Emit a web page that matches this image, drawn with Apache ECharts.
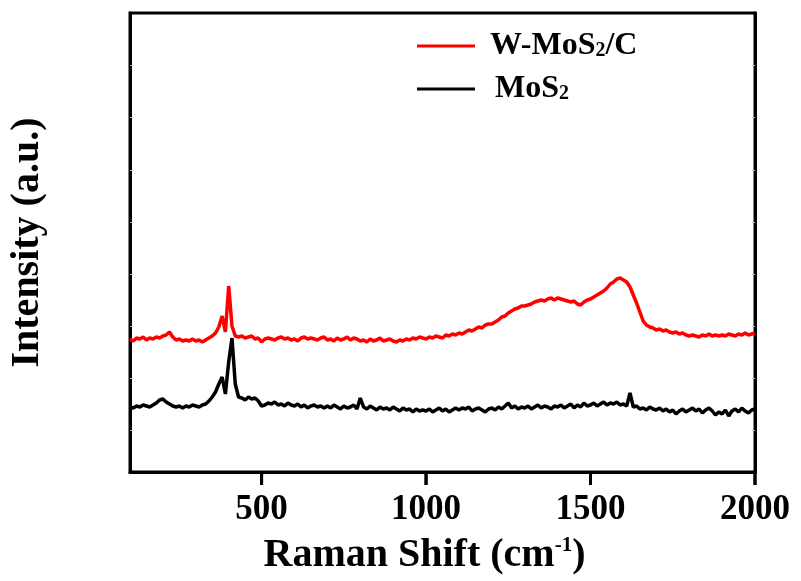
<!DOCTYPE html>
<html>
<head>
<meta charset="utf-8">
<script src="https://cdn.jsdelivr.net/npm/echarts@6/dist/echarts.min.js"></script>
<style>
  html, body { margin: 0; padding: 0; background: #fff; }
  #main { width: 801px; height: 581px; }
</style>
</head>
<body>
<div id="main"></div>
<script>
// 横坐标: 拉曼位移 100 ~ 2000 cm-1, 每 10 cm-1 一个点
const shift = [];
for (let v = 100; v <= 2000; v += 10) shift.push(v);

// W-MoS2/C 强度 (任意单位, 从图上读取)
const wmosc = [
  133,131,134,133,135,132,134,133,135,134,
  136,137,140,135,132,133,131,132,131,133,
  131,132,130,132,134,136,139,145,156,140,
  186,146,136,135,136,134,135,136,133,134,
  130,133,134,133,132,134,135,133,134,132,
  133,131,134,135,133,134,133,132,134,135,
  132,133,131,134,132,133,135,132,134,133,
  131,132,130,133,131,132,134,131,132,133,
  131,130,132,131,133,132,134,133,135,134,
  133,135,134,136,135,134,137,136,138,137,
  139,138,140,142,141,143,145,144,147,148,
  148,150,152,155,156,159,161,163,164,166,
  166,167,168,170,171,172,171,173,174,172,
  174,173,172,171,170,171,168,167,170,172,
  173,175,177,179,181,184,188,190,193,194,
  192,190,185,177,169,160,151,147,145,144,
  142,143,141,142,140,139,140,138,139,137,
  136,137,136,135,137,136,138,136,137,136,
  137,136,138,137,136,138,137,139,137,138,
  139
];

// MoS2 强度
const mos2 = [
  65,64,66,65,67,66,65,67,69,72,
  73,70,68,66,65,66,64,66,65,67,
  66,65,67,68,71,75,80,88,95,78,
  110,134,88,75,74,72,75,73,74,71,
  66,67,69,68,70,67,68,66,69,67,
  66,68,65,67,64,66,67,65,66,64,
  66,64,67,65,63,66,64,65,67,63,
  74,65,63,66,64,62,65,63,64,62,
  65,63,61,64,62,63,60,63,61,62,
  61,63,60,62,64,61,63,60,62,64,
  62,64,63,65,61,63,64,62,60,63,
  64,62,65,63,66,69,64,66,63,65,
  64,66,63,65,67,64,66,65,63,66,
  65,67,64,66,68,64,67,65,69,66,
  67,69,66,68,70,67,69,68,70,67,
  68,66,79,65,66,63,64,62,65,63,
  62,64,61,63,60,62,58,61,63,60,
  62,64,61,63,59,62,64,61,57,60,
  58,62,56,61,63,60,64,61,59,62,
  63
];

const xTicks = [500, 1000, 1500, 2000];
const yTicks = [42, 94, 146, 198, 250, 302, 355, 407];

const font = 'Liberation Serif';
const chart = echarts.init(document.getElementById('main'));

const toPairs = ys => shift.map((x, i) => [x, ys[i]]);

const legendRich = {
  a: { fontFamily: font, fontWeight: 'bold', fontSize: 32, color: '#000', lineHeight: 30 },
  b: { fontFamily: font, fontWeight: 'bold', fontSize: 32, color: '#000', lineHeight: 30, padding: [0, 0, 0, 10] },
  c: { fontFamily: font, fontWeight: 'bold', fontSize: 32, color: '#000', lineHeight: 30, padding: [0, 0, 0, 15] },
  s: { fontFamily: font, fontWeight: 'bold', fontSize: 20, color: '#000', verticalAlign: 'bottom', lineHeight: 30 }
};

const option = {
  animation: false,
  backgroundColor: '#fff',
  grid: {
    left: 129, right: 46, top: 13, bottom: 109,
    show: true, borderColor: '#000', borderWidth: 3
  },
  legend: {
    orient: 'vertical',
    left: 412, top: 25,
    itemWidth: 58, itemHeight: 3, itemGap: 11,
    icon: 'rect',
    formatter: name => name === 'W-MoS2/C' ? '{b|W-MoS}{s|2}{a|/C}' : '{c|MoS}{s|2}',
    textStyle: { rich: legendRich },
    data: ['W-MoS2/C', 'MoS2']
  },
  xAxis: {
    type: 'value', min: 100, max: 2000,
    name: '{a|Raman Shift (cm}{s|-1}{a|)}',
    nameLocation: 'middle', nameGap: 63,
    nameTextStyle: {
      padding: [0, 36, 0, 0],
      rich: {
        a: { fontFamily: font, fontWeight: 'bold', fontSize: 40, color: '#000', lineHeight: 42 },
        s: { fontFamily: font, fontWeight: 'bold', fontSize: 21, color: '#000', verticalAlign: 'top', lineHeight: 42 }
      }
    },
    axisLine: { onZero: false, lineStyle: { color: '#000', width: 3 } },
    axisTick: { show: false },
    axisLabel: {
      customValues: xTicks, margin: 20, formatter: v => String(v),
      fontFamily: font, fontWeight: 'bold', fontSize: 35, color: '#000'
    },
    splitLine: { show: false }
  },
  yAxis: [{
    type: 'value', min: 0, max: 459,
    name: 'Intensity (a.u.)',
    nameLocation: 'middle', nameGap: 82,
    nameTextStyle: { fontFamily: font, fontWeight: 'bold', fontSize: 40, color: '#000' },
    axisLine: { lineStyle: { color: '#000', width: 3 } },
    axisTick: { show: true, customValues: yTicks, inside: true, length: 3, lineStyle: { color: '#bbb', width: 1 } },
    axisLabel: { show: false },
    splitLine: { show: false }
  }, {
    type: 'value', min: 0, max: 459, position: 'right',
    axisLine: { show: true, lineStyle: { color: '#000', width: 3 } },
    axisTick: { show: true, customValues: yTicks, inside: true, length: 3, lineStyle: { color: '#bbb', width: 1 } },
    axisLabel: { show: false },
    splitLine: { show: false }
  }],
  series: [
    {
      name: 'W-MoS2/C', type: 'line', data: toPairs(wmosc),
      symbol: 'none', lineStyle: { color: '#ff0000', width: 3.5 }, itemStyle: { color: '#ff0000' }
    },
    {
      name: 'MoS2', type: 'line', data: toPairs(mos2),
      symbol: 'none', lineStyle: { color: '#000', width: 3.5 }, itemStyle: { color: '#000' }
    },
    {
      // x 轴外向刻度线, 放在上层画布
      type: 'custom', clip: false, zlevel: 1, z: 100,
      data: xTicks.map(v => [v, 0]),
      renderItem: (params, api) => {
        const p = api.coord([api.value(0), 0]);
        return {
          type: 'line',
          shape: { x1: p[0], y1: p[1], x2: p[0], y2: p[1] + 13 },
          style: { stroke: '#000', lineWidth: 3 }
        };
      }
    }
  ]
};

chart.setOption(option);

// 备用: 同样位置用 graphic 再画一次 (位置由坐标系换算)
const tickLines = [];
xTicks.forEach(v => {
  const p = chart.convertToPixel({ xAxisIndex: 0, yAxisIndex: 0 }, [v, 0]);
  if (!p) return;
  tickLines.push({
    type: 'line', zlevel: 1, z: 100,
    shape: { x1: p[0], y1: p[1], x2: p[0], y2: p[1] + 13 },
    style: { stroke: '#000', lineWidth: 3 }
  });
});
if (tickLines.length) chart.setOption({ graphic: tickLines });
</script>
</body>
</html>
